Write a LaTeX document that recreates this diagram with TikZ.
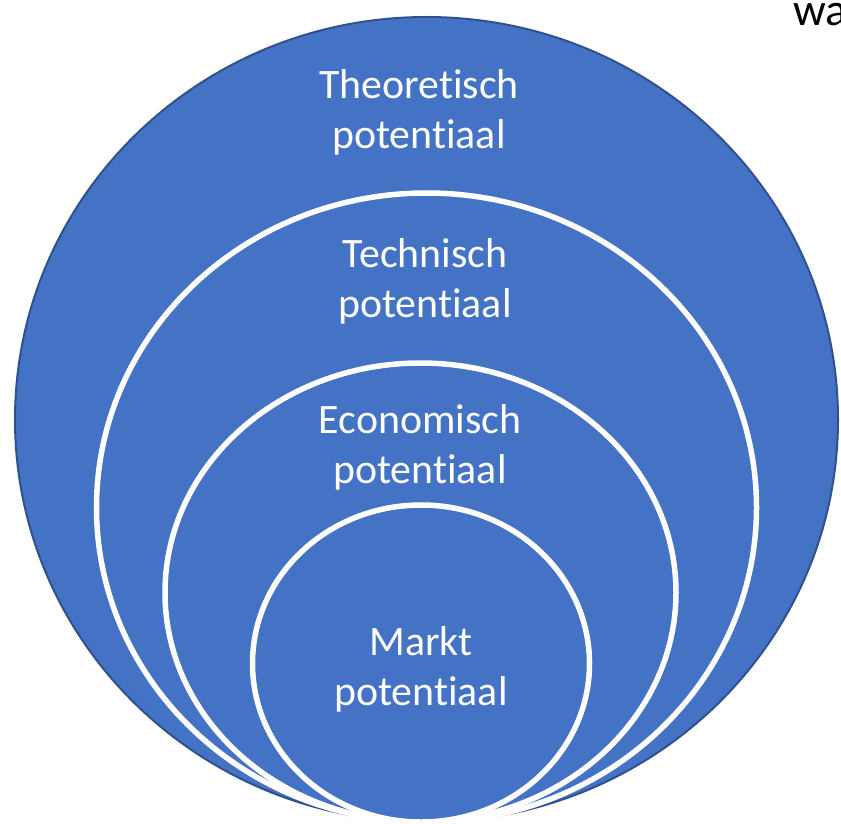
\documentclass[tikz,border=0pt]{standalone}
\usepackage{fontspec}
\setmainfont{Carlito}[Ligatures=NoCommon]
\usetikzlibrary{positioning}

\definecolor{officeblue}{HTML}{4472C4}
\definecolor{officeedge}{HTML}{2F528F}

\begin{document}
\begin{tikzpicture}[
    x=1bp, y=-1bp,
    outer_ring/.style={
        fill=officeblue,
        draw=officeedge,
        line width=2bp
    },
    ring/.style={
        fill=officeblue,
        draw=white,
        line width=5.5bp
    },
    label_text/.style={
        text=white,
        align=center,
        inner sep=0pt,
        font=\fontsize{42}{50}\selectfont
    }
]
    \useasboundingbox (0,0) rectangle (841,824);

    % -- nested potentials, all touching at the bottom --
    \draw[outer_ring] (426.5,419.5) ellipse [x radius=411.5bp, y radius=402.5bp];
    \draw[ring] (426.5,507.5) ellipse [x radius=330bp, y radius=314.5bp];
    \draw[ring] (420.5,592.5) ellipse [x radius=255.5bp, y radius=229.5bp];
    \draw[ring] (421,663.5) ellipse [x radius=168.5bp, y radius=158.5bp];

    % -- labels --
    \node[label_text] (theo) at (419,112) {Theoretisch\\potentiaal};
    \node[label_text] (tech) at (425,281) {Technisch\\potentiaal};
    \node[label_text] (econ) at (420,447) {Economisch\\potentiaal};
    \node[label_text] (markt) at (421,669) {Markt\\potentiaal};

    % heading running off the page edge
    \node[anchor=base west, inner sep=0pt, font=\fontsize{46}{50}\selectfont] (head) at (793,25) {wa};

\end{tikzpicture}
\end{document}
